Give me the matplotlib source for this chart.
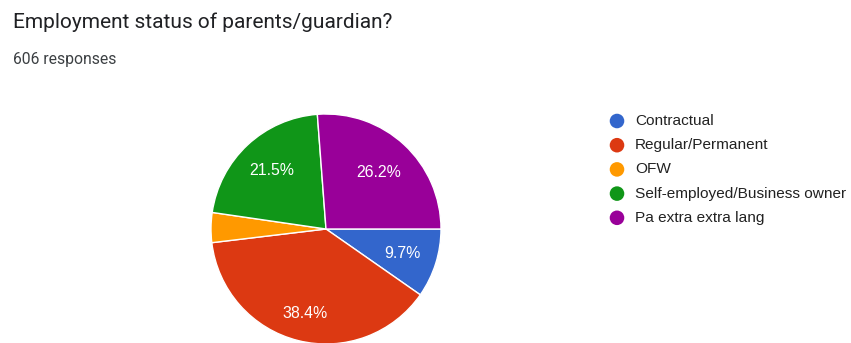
import numpy as np
import matplotlib
matplotlib.use("Agg")
import matplotlib.pyplot as plt

# Survey results
categories = ["Contractual", "Regular/Permanent", "OFW",
              "Self-employed/Business owner", "Pa extra extra lang"]
percentages = [9.7, 38.4, 4.2, 21.5, 26.2]
colors = ["#3366CC", "#DC3912", "#FF9900", "#109618", "#990099"]
title = "Employment status of parents/guardian?"
subtitle = "606 responses"

W, H, DPI = 851, 343, 100
fig = plt.figure(figsize=(W / DPI, H / DPI), dpi=DPI, facecolor="white")

# Pie axes: centre (326, 229) px, radius 115 px
cx, cy, r = 326, 229, 115
ax = fig.add_axes([(cx - r) / W, (H - cy - r) / H, 2 * r / W, 2 * r / H])
wedges, _ = ax.pie(percentages, colors=colors, startangle=0, counterclock=False,
                   radius=1.0, wedgeprops=dict(edgecolor="white", linewidth=1.0))
ax.set_xlim(-1, 1)
ax.set_ylim(-1, 1)
ax.set_aspect("equal")
ax.axis("off")

# Percentage labels inside slices large enough to hold them
label_dist = [0.70, 0.76, 0.70, 0.69, 0.67]
for w, p, d in zip(wedges, percentages, label_dist):
    if p < 5:
        continue
    mid = np.deg2rad((w.theta1 + w.theta2) / 2)
    ax.text(d * np.cos(mid), d * np.sin(mid), f"{p:.1f}%", color="white",
            fontsize=11.4, family="Liberation Sans", ha="center", va="center")

# Overlay in pixel coordinates for header and legend
ov = fig.add_axes([0, 0, 1, 1])
ov.set_xlim(0, W)
ov.set_ylim(H, 0)
ov.axis("off")

ov.text(13, 28, title, fontsize=15, family="Roboto", color="#202124",
        ha="left", va="baseline")
ov.text(13, 64, subtitle, fontsize=11.3, family="Roboto", color="#3c4043",
        ha="left", va="baseline")

y0, dy = 121, 24.2
for i, (lab, c) in enumerate(zip(categories, colors)):
    y = y0 + i * dy
    ov.scatter([617], [y], s=110, color=c, edgecolors="none")
    ov.text(635, y, lab, fontsize=11.1, family="Liberation Sans", color="#222222",
            ha="left", va="center")

fig.savefig("out.png", dpi=DPI, facecolor="white")
